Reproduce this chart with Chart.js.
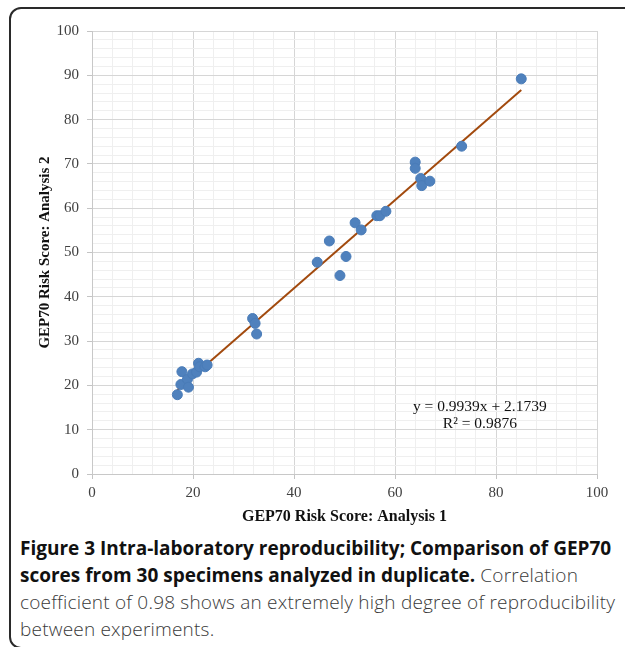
<!DOCTYPE html>
<html>
<head>
<meta charset="utf-8">
<script src="https://cdn.jsdelivr.net/npm/chart.js@4.4.1/dist/chart.umd.min.js"></script>
<style>
  html, body { margin: 0; padding: 0; background: #fff; overflow: hidden; }
  #frame {
    position: absolute; left: 9px; top: 7px; width: 660px; height: 638px;
    border: 2px solid #2a2a2a; border-radius: 12px;
  }
  #wrap { position: absolute; left: 0; top: 0; }
  #caption {
    position: absolute; left: 20px; top: 535px; width: 604px;
    font-family: "Open Sans", sans-serif; font-size: 19px; line-height: 27px;
    color: #3a3a3a; font-weight: 300; letter-spacing: 0.2px;
  }
  #caption b { color: #111; font-weight: 700; letter-spacing: 0; }
</style>
</head>
<body>
<div id="frame"></div>
<div id="wrap"><canvas id="myChart" width="625" height="530"></canvas></div>
<div id="caption"><b>Figure 3 Intra-laboratory reproducibility; Comparison of GEP70 scores from 30 specimens analyzed in duplicate.</b> Correlation coefficient of 0.98 shows an extremely high degree of reproducibility between experiments.</div>
<script>
// GEP70 scores, analysis 1 (x) vs analysis 2 (y)
var analysis1 = [16.9, 17.6, 17.8, 18.9, 19.1, 19.9, 20.7, 21.1, 21.3, 22.4, 22.8,
                 31.8, 32.3, 32.6,
                 44.6, 47.0, 49.1, 50.3, 52.1, 53.3, 56.4, 57.0, 58.2,
                 64.0, 64.0, 65.1, 65.3, 66.9, 73.2, 85.0];
var analysis2 = [17.9, 20.2, 23.1, 21.4, 19.6, 22.6, 23.0, 25.0, 24.2, 24.2, 24.6,
                 35.1, 34.0, 31.6,
                 47.8, 52.6, 44.8, 49.1, 56.7, 55.1, 58.3, 58.3, 59.3,
                 70.4, 69.0, 66.7, 65.1, 66.1, 74.0, 89.2];
var slope = 0.9939;
var intercept = 2.1739;
var equationLines = ['y = 0.9939x + 2.1739', 'R\u00b2 = 0.9876'];
var xTitle = 'GEP70 Risk Score: Analysis 1';
var yTitle = 'GEP70 Risk Score: Analysis 2';

var points = analysis1.map(function (x, i) { return { x: x, y: analysis2[i] }; });
var xMin = Math.min.apply(null, analysis1);
var xMax = Math.max.apply(null, analysis1);
var trend = [
    { x: xMin, y: slope * xMin + intercept },
    { x: xMax, y: slope * xMax + intercept }
];

var serif = "'Liberation Serif', 'DejaVu Serif', serif";

const equationPlugin = {
    id: 'equation',
    afterDatasetsDraw: function (chart) {
        var ctx = chart.ctx;
        var xs = chart.scales.x, ys = chart.scales.y;
        ctx.save();
        ctx.font = '15.5px ' + serif;
        ctx.fillStyle = '#111';
        ctx.textAlign = 'center';
        ctx.textBaseline = 'middle';
        ctx.fillText(equationLines[0], xs.getPixelForValue(76.8), ys.getPixelForValue(15.1));
        ctx.fillText(equationLines[1], xs.getPixelForValue(76.8), ys.getPixelForValue(11.2));
        ctx.restore();
    }
};

function gridColor(step) {
    return function (c) {
        return (c.tick && c.tick.value % step === 0) ? '#d6d6d6' : '#efefef';
    };
}
function tickColor(step) {
    return function (c) {
        return (c.tick && c.tick.value % step === 0) ? '#c4c4c4' : 'rgba(0,0,0,0)';
    };
}

var d = document.getElementById('myChart');
var ctx = d.getContext('2d');
const myChart = new Chart(ctx, {
    type: 'scatter',
    data: {
        datasets: [{
            label: 'Trend',
            type: 'line',
            data: trend,
            borderColor: '#a24a0e',
            borderWidth: 2,
            pointRadius: 0,
            fill: false,
            order: 2
        },
        {
            label: 'Specimens',
            data: points,
            backgroundColor: '#4f81bd',
            borderColor: '#4a7cb8',
            borderWidth: 1,
            pointRadius: 5,
            order: 1
        }]
    },
    options: {
        responsive: false,
        animation: false,
        layout: { padding: { left: 32, right: 28, top: 31, bottom: 0 } },
        plugins: {
            legend: { display: false },
            tooltip: { enabled: false }
        },
        scales: {
            x: {
                type: 'linear',
                min: 0,
                max: 100,
                afterFit: function (s) { s.height = 56; },
                ticks: {
                    stepSize: 4,
                    autoSkip: false,
                    maxRotation: 0,
                    padding: 5,
                    color: '#404040',
                    font: { family: serif, size: 15 },
                    callback: function (v) { return v % 20 === 0 ? v : ''; }
                },
                grid: { color: gridColor(20), tickColor: tickColor(20), tickLength: 5 },
                border: { color: '#c8c8c8' },
                title: {
                    display: true,
                    text: xTitle,
                    color: '#111',
                    padding: { top: 1 },
                    font: { family: serif, size: 16, weight: 'bold' }
                }
            },
            y: {
                min: 0,
                max: 100,
                afterFit: function (s) { s.width = 60; },
                ticks: {
                    stepSize: 2,
                    autoSkip: false,
                    padding: 8,
                    color: '#404040',
                    font: { family: serif, size: 15 },
                    callback: function (v) { return v % 10 === 0 ? v : ''; }
                },
                grid: { color: gridColor(10), tickColor: tickColor(10), tickLength: 5 },
                border: { color: '#c8c8c8' },
                title: {
                    display: true,
                    text: yTitle,
                    color: '#111',
                    padding: { bottom: 4 },
                    font: { family: serif, size: 15, weight: 'bold' }
                }
            }
        }
    },
    plugins: [equationPlugin]
});
</script>
</body>
</html>
